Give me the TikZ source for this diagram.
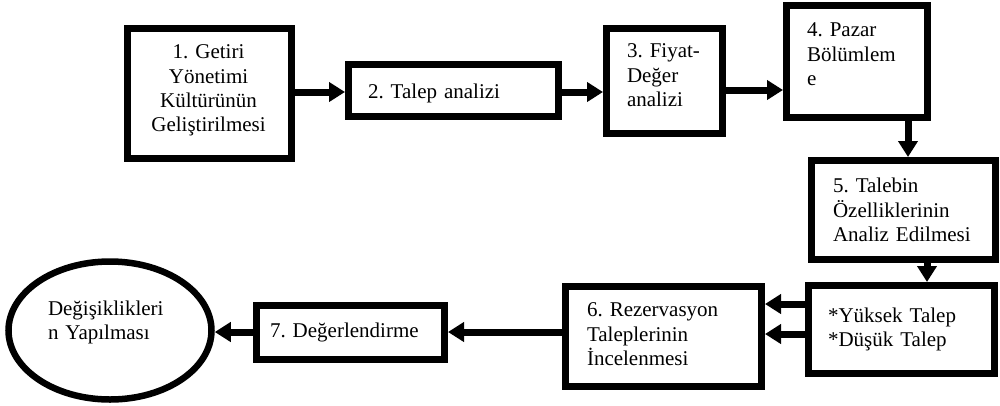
\documentclass[tikz,border=0pt]{standalone}
\usepackage{fontspec}
\setmainfont{Liberation Serif}
\usetikzlibrary{arrows.meta,shapes.geometric}
\newcommand\diagfont{\fontsize{21}{24.3}\selectfont\frenchspacing}
\tikzset{
  box/.style={draw, line width=7pt, rectangle, inner sep=0pt},
  ovalbox/.style={draw, line width=6.5pt, ellipse, inner sep=0pt},
  lbl/.style={font=\diagfont, align=left, inner sep=0pt, text width=#1, draw=none},
  clbl/.style={font=\diagfont, align=center, inner sep=0pt, text width=#1, draw=none},
  arr/.style={line width=7pt, -{Triangle[length=16pt,width=19pt]}}
}
\begin{document}
\begin{tikzpicture}[x=1pt,y=-1pt]
\useasboundingbox[fill=white] (0,0) rectangle (1000,405);

\node[box, minimum width=164pt, minimum height=130pt,
  label={[clbl=160pt, xshift=-1pt, yshift=2.9pt]center:{1. Getiri\\Yönetimi\\Kültürünün\\Geliştirilmesi}}]
  (b1) at (209.5,93.5) {};
\node[box, minimum width=210pt, minimum height=52pt,
  label={[lbl=180pt, xshift=4.5pt, yshift=-2.7pt]center:{2. Talep analizi}}]
  (b2) at (453.5,90.5) {};
\node[box, minimum width=116pt, minimum height=105pt,
  label={[lbl=95pt, xshift=10pt, yshift=5.8pt]center:{3. Fiyat-\\Değer\\analizi}}]
  (b3) at (664.5,81) {};
\node[box, minimum width=141pt, minimum height=112pt,
  label={[lbl=110pt, xshift=5pt, yshift=7.3pt]center:{4. Pazar\\Bölümlem\\e}}]
  (b4) at (857,61.5) {};
\node[box, minimum width=184pt, minimum height=99pt,
  label={[lbl=160pt, xshift=9.5pt, yshift=0pt]center:{5. Talebin\\Özelliklerinin\\Analiz Edilmesi}}]
  (b5) at (903.5,210) {};
\node[box, minimum width=186pt, minimum height=88pt,
  label={[lbl=160pt, xshift=6.5pt, yshift=0pt]center:{*Yüksek Talep\\{}*Düşük Talep}}]
  (bs) at (901.5,329.5) {};
\node[box, minimum width=196pt, minimum height=100pt,
  label={[lbl=170pt, xshift=8.5pt, yshift=2.3pt]center:{6. Rezervasyon\\Taleplerinin\\İncelenmesi}}]
  (b6) at (663.5,336.5) {};
\node[box, minimum width=188pt, minimum height=54pt,
  label={[lbl=170pt, xshift=4.5pt, yshift=0.3pt]center:{7. Değerlendirme}}]
  (b7) at (350.5,332.5) {};
\node[ovalbox, minimum width=203pt, minimum height=138pt,
  label={[lbl=140pt, xshift=8pt, yshift=8.2pt]center:{Değişiklikleri\\n Yapılması}}]
  (ell) at (110,330.5) {};

\coordinate (y12) at (0,92);
\coordinate (y34) at (0,90);
\coordinate (x45) at (908,0);
\coordinate (x5s) at (927,0);
\coordinate (ys6a) at (0,304);
\coordinate (ys6b) at (0,334);
\coordinate (y67) at (0,332);

\draw[arr] (b1.east |- y12) -- (b2.west |- y12);
\draw[arr] (b2.east |- y12) -- (b3.west |- y12);
\draw[arr] (b3.east |- y34) -- (b4.west |- y34);
\draw[arr] (b4.south -| x45) -- (b5.north -| x45);
\draw[arr] (b5.south -| x5s) -- (bs.north -| x5s);
\draw[arr] (bs.west |- ys6a) -- (b6.east |- ys6a);
\draw[arr] (bs.west |- ys6b) -- (b6.east |- ys6b);
\draw[arr] (b6.west |- y67) -- (b7.east |- y67);
\draw[arr] (b7.west |- y67) -- (ell.east |- y67);
\end{tikzpicture}
\end{document}
